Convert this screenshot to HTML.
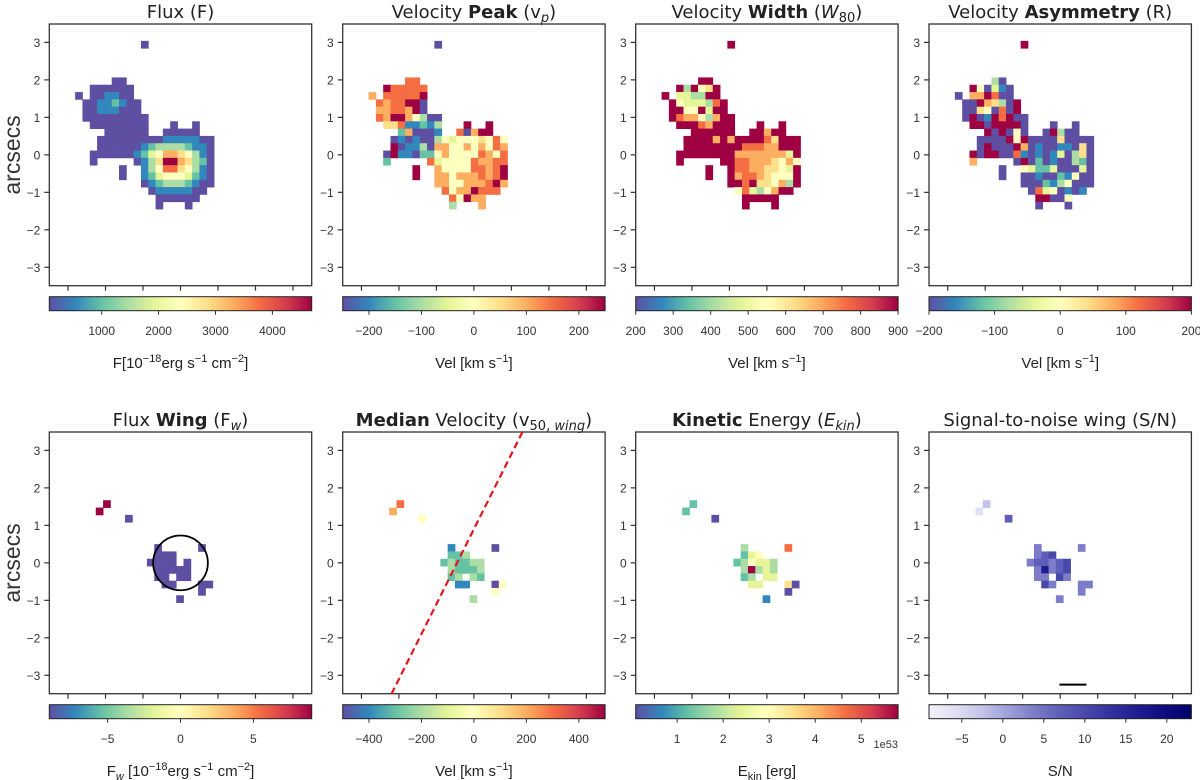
<!DOCTYPE html>
<html><head><meta charset="utf-8">
<style>
html,body{margin:0;padding:0;background:#fff;}
svg{display:block;}
text{font-family:"Liberation Sans","DejaVu Sans",sans-serif;fill:#333;}
.title{font-family:"DejaVu Sans","Liberation Sans",sans-serif;font-size:18px;fill:#222;}
.tick{font-size:12px;}
.clab{font-size:15px;fill:#222;}
</style></head>
<body>
<svg id="fig" width="1200" height="780" viewBox="0 0 1200 780" xmlns="http://www.w3.org/2000/svg">
<text x="0" y="0" transform="translate(20,155) rotate(-90)" text-anchor="middle" style="font-size:23px" fill="#222">arcsecs</text>
<text x="0" y="0" transform="translate(20,563) rotate(-90)" text-anchor="middle" style="font-size:23px" fill="#222">arcsecs</text>
<g><text class="title" x="180.5" y="18" text-anchor="middle">Flux (F)</text></g>
<g><text class="title" x="473.9" y="18" text-anchor="middle">Velocity <tspan font-weight="bold">Peak</tspan> (v<tspan font-style="italic" font-size="13" dy="4">p</tspan><tspan dy="-4">)</tspan></text></g>
<g><text class="title" x="766.9" y="18" text-anchor="middle">Velocity <tspan font-weight="bold">Width</tspan> (<tspan font-style="italic">W</tspan><tspan font-size="13" dy="4">80</tspan><tspan dy="-4">)</tspan></text></g>
<g><text class="title" x="1060.2" y="18" text-anchor="middle">Velocity <tspan font-weight="bold">Asymmetry</tspan> (R)</text></g>
<g><text class="title" x="180.5" y="426" text-anchor="middle">Flux <tspan font-weight="bold">Wing</tspan> (F<tspan font-style="italic" font-size="13" dy="4">w</tspan><tspan dy="-4">)</tspan></text></g>
<g><text class="title" x="473.9" y="426" text-anchor="middle"><tspan font-weight="bold">Median</tspan> Velocity (v<tspan font-size="13" dy="4">50, </tspan><tspan font-size="13" font-style="italic">wing</tspan><tspan dy="-4">)</tspan></text></g>
<g><text class="title" x="766.9" y="426" text-anchor="middle"><tspan font-weight="bold">Kinetic</tspan> Energy (<tspan font-style="italic">E</tspan><tspan font-size="13" font-style="italic" dy="4">kin</tspan><tspan dy="-4">)</tspan></text></g>
<g><text class="title" x="1060.2" y="426" text-anchor="middle">Signal-to-noise wing (S/N)</text></g>

<g><text class="clab" x="180.5" y="368" text-anchor="middle">F[10<tspan font-size="11" dy="-6">−18</tspan><tspan dy="6">erg s</tspan><tspan font-size="11" dy="-6">−1</tspan><tspan dy="6"> cm</tspan><tspan font-size="11" dy="-6">−2</tspan><tspan dy="6">]</tspan></text></g>
<g><text class="clab" x="473.9" y="368" text-anchor="middle">Vel [km s<tspan font-size="11" dy="-6">−1</tspan><tspan dy="6">]</tspan></text></g>
<g><text class="clab" x="766.9" y="368" text-anchor="middle">Vel [km s<tspan font-size="11" dy="-6">−1</tspan><tspan dy="6">]</tspan></text></g>
<g><text class="clab" x="1060.2" y="368" text-anchor="middle">Vel [km s<tspan font-size="11" dy="-6">−1</tspan><tspan dy="6">]</tspan></text></g>
<g><text class="clab" x="180.5" y="776" text-anchor="middle">F<tspan font-size="11" font-style="italic" dy="4">w</tspan><tspan dy="-4"> [10</tspan><tspan font-size="11" dy="-6">−18</tspan><tspan dy="6">erg s</tspan><tspan font-size="11" dy="-6">−1</tspan><tspan dy="6"> cm</tspan><tspan font-size="11" dy="-6">−2</tspan><tspan dy="6">]</tspan></text></g>
<g><text class="clab" x="473.9" y="776" text-anchor="middle">Vel [km s<tspan font-size="11" dy="-6">−1</tspan><tspan dy="6">]</tspan></text></g>
<g><text class="clab" x="766.9" y="776" text-anchor="middle">E<tspan font-size="11" dy="4">kin</tspan><tspan dy="-4"> [erg]</tspan></text></g>
<g><text class="clab" x="1060.2" y="776" text-anchor="middle">S/N</text></g>
<text x="898" y="748" text-anchor="end" style="font-size:11px">1e53</text>
</svg>
<script>
// ---------- data ----------
const panelLefts = [49.3, 342.7, 635.7, 929];
const rowTops = [24, 432];
const axisTicks = [-3, -2, -1, 0, 1, 2, 3];

const fluxGrid = [
".........0..........","....................","....................","....................","....................",
".....00.............","..000000............","0.001100............",".00112100...........",".00111000...........",
".000000000..........","..00000000...0..0...","....000000..00000...","...0000000001111100.","...0000001233332110.",
"..00000012457765310.","..0.....01369976320.","......0..1358865310.","......0..1245554210.",".........0123332100.",
"..........01111100..","...........000000...","...........0...0...."];
const vpGrid = [
".........0..........","....................","....................","....................","....................",
".....88.............","..988888............","7.888889............",".8788990............",".7788790............",
".879975300..........","..66811213...9..9...","....270001..80799...","...0101003545556585.","...9011307755757587.",
"..09110225755558758.","..2.....84555587788.","......9..7555588789.","......9..7757778789.",".........7755777897.",
"..........85779888..","...........85977....","...........3...7...."];
const w80Grid = [
".........9..........","....................","....................","....................","....................",
".....99.............","..939569............","9.443399............",".95444389...........",".99559499...........",
".987753799..........","..99987999...9..9...","....999999..99799...","...9999797999986999.","...9999999988877999.",
"..99999999777777749.","..9.....99887776575.","......9..9887766549.","......9..9788765559.",".........9989665739.",
"..........58435799..","...........99999....","...........9...9...."];
const asymGrid = [
".........9..........","....................","....................","....................","....................",
".....30.............","..950410............","0.779800............",".00976309...........",".00650809...........",
".090198900..........","..99099990...0..0...","....909050..09300...","...0000959000060000.","...0900097010011060.",
"..90990081010140360.","..7.....09020100320.","......0..5422400040.","......0..0010021500.",".........0002135000.",
"..........08450101..","...........99005....","...........0...0...."];
const fwGrid = [".9..............","9...............","....0...........","................","................","................",
"........0.....0.","........000.....",".......0000.0...","........00000...","........00.00...",".........00...00","..............0.","...........0...."];
const v50Grid = [".8..............","7...............","....5...........","................","................","................",
"........1.....0.","........223.....",".......232233...","........32223...","........23.32...",".........11...05","..............5.","...........3...."];
const ekinGrid = [".2..............","2...............","....0...........","................","................","................",
"........3.....8.","........245.....",".......235443...","........39343...","........23.44...",".........44...60","..............0.","...........1...."];
const snGrid = [".2..............","1...............","....5...........","................","................","................",
"........4.....4.","........456.....",".......455456...","........48456...","........44.64...",".........64...44","..............4.","...........4...."];

const cbarRanges = [[80,4690],[-250,250],[200,900],[-200,200],[-9,9],[-500,500],[0.1,5.8],[-9,23]];
const cbarTicks = [[1000,2000,3000,4000],[-200,-100,0,100,200],[200,300,400,500,600,700,800,900],[-200,-100,0,100,200],
                   [-5,0,5],[-400,-200,0,200,400],[1,2,3,4,5],[-5,0,5,10,15,20]];
const dashLine = [[-2.2,-3.5],[1.3,3.5]];
const circle = [0, 0, 0.73];
const scaleBar = [-0.02, 0.7, -3.25];

// ---------- colormaps ----------
const spectral = ['#5e4fa2','#3288bd','#66c2a5','#abdda4','#e6f598','#ffffbf','#fee08b','#fdae61','#f46d43','#d53e4f','#9e0142'];
const snMap = ['#f2f2fc','#e0e0f4','#c4c4ea','#a0a0da','#7c7cc8','#5e5eb8','#4848aa','#30309e','#1c1c90','#0c0c80','#00006a'];
function hex(c){return [parseInt(c.substr(1,2),16),parseInt(c.substr(3,2),16),parseInt(c.substr(5,2),16)];}
function cmap(stops,f){f=Math.max(0,Math.min(1,f));const p=f*(stops.length-1);const i=Math.min(Math.floor(p),stops.length-2);const t=p-i;
  const a=hex(stops[i]),b=hex(stops[i+1]);return 'rgb('+a.map((v,k)=>Math.round(v+(b[k]-v)*t)).join(',')+')';}
function digitFrac(d){return d===9?1:d/10;}

const NS='http://www.w3.org/2000/svg';
const svg=document.getElementById('fig');
function el(tag,attrs,parent){const e=document.createElementNS(NS,tag);for(const k in attrs)e.setAttribute(k,attrs[k]);(parent||svg).appendChild(e);return e;}

const W=262.4, H=261.7, S=W/7;
function xs(p,v){return panelLefts[p]+W/2+v*S;}
function ys(r,v){return rowTops[r]+H/2-v*S;}
const gridsTop=[fluxGrid,vpGrid,w80Grid,asymGrid];
const gridsBot=[fwGrid,v50Grid,ekinGrid,snGrid];
const names=['flux','velocity-peak','velocity-width','velocity-asymmetry','flux-wing','median-velocity','kinetic-energy','signal-to-noise'];
const pix=0.195;
const gridOrigin=[[-2.81,3.04],[-2.26,1.67]];

for(let r=0;r<2;r++){
  for(let p=0;p<4;p++){
    const idx=r*4+p;
    const g=el('g',{});
    
    
    const grid=(r===0?gridsTop:gridsBot)[p];
    const stops=(idx===7)?snMap:spectral;
    const ox=gridOrigin[r][0], oy=gridOrigin[r][1];
    grid.forEach((row,ri)=>{
      for(let ci=0;ci<row.length;ci++){
        const ch=row[ci]; if(ch==='.')continue;
        const x0=xs(p,ox+ci*pix), x1=xs(p,ox+(ci+1)*pix);
        const y0=ys(r,oy-ri*pix), y1=ys(r,oy-(ri+1)*pix);
        const c=el('rect',{x:x0.toFixed(2),y:y0.toFixed(2),width:(x1-x0+0.4).toFixed(2),height:(y1-y0+0.4).toFixed(2),fill:cmap(stops,digitFrac(+ch))},g);
        
        
      }
    });
    const L=panelLefts[p], T=rowTops[r];
    const fr=el('rect',{x:L,y:T,width:W,height:H,fill:'none',stroke:'#333','stroke-width':1.3});
    
    
    axisTicks.forEach(t=>{
      el('line',{x1:xs(p,t),x2:xs(p,t),y1:T+H,y2:T+H+5,stroke:'#333','stroke-width':1.2});
      el('line',{x1:L-5,x2:L,y1:ys(r,t),y2:ys(r,t),stroke:'#333','stroke-width':1.2});
      const tl=el('text',{x:L-9,y:ys(r,t)+4.5,'text-anchor':'end',class:'tick'});
      tl.textContent=(t<0?'\u2212':'')+Math.abs(t);
      
      
    });
    const cy=T+272.7, ch=14;
    const gid='grad'+idx;
    const defs=el('defs',{});
    const lg=el('linearGradient',{id:gid,x1:0,x2:1,y1:0,y2:0},defs);
    for(let k=0;k<=20;k++){el('stop',{offset:(k/20),'stop-color':cmap(stops,k/20)},lg);}
    const cb=el('rect',{x:L,y:cy,width:W,height:ch,fill:'url(#'+gid+')',stroke:'#222','stroke-width':1});
    
    
    const [mn,mx]=cbarRanges[idx];
    cbarTicks[idx].forEach(v=>{
      const x=L+(v-mn)/(mx-mn)*W;
      el('line',{x1:x,x2:x,y1:cy+ch,y2:cy+ch+4,stroke:'#333','stroke-width':1});
      const tl=el('text',{x:x,y:T+311,'text-anchor':'middle',class:'tick'});
      tl.textContent=(v<0?'\u2212':'')+Math.abs(v);
      
      
    });
  }
}
const circ=el('circle',{cx:xs(0,circle[0]),cy:ys(1,circle[1]),r:circle[2]*S,fill:'none',stroke:'#000','stroke-width':1.8});


const dl=el('line',{x1:xs(1,dashLine[0][0]),y1:ys(1,dashLine[0][1]),x2:xs(1,dashLine[1][0]),y2:ys(1,dashLine[1][1]),stroke:'#e8141c','stroke-width':2.2,'stroke-dasharray':'7,4'});


const sb=el('line',{x1:xs(3,scaleBar[0]),x2:xs(3,scaleBar[1]),y1:ys(1,scaleBar[2]),y2:ys(1,scaleBar[2]),stroke:'#000','stroke-width':2});


</script>
</body></html>
